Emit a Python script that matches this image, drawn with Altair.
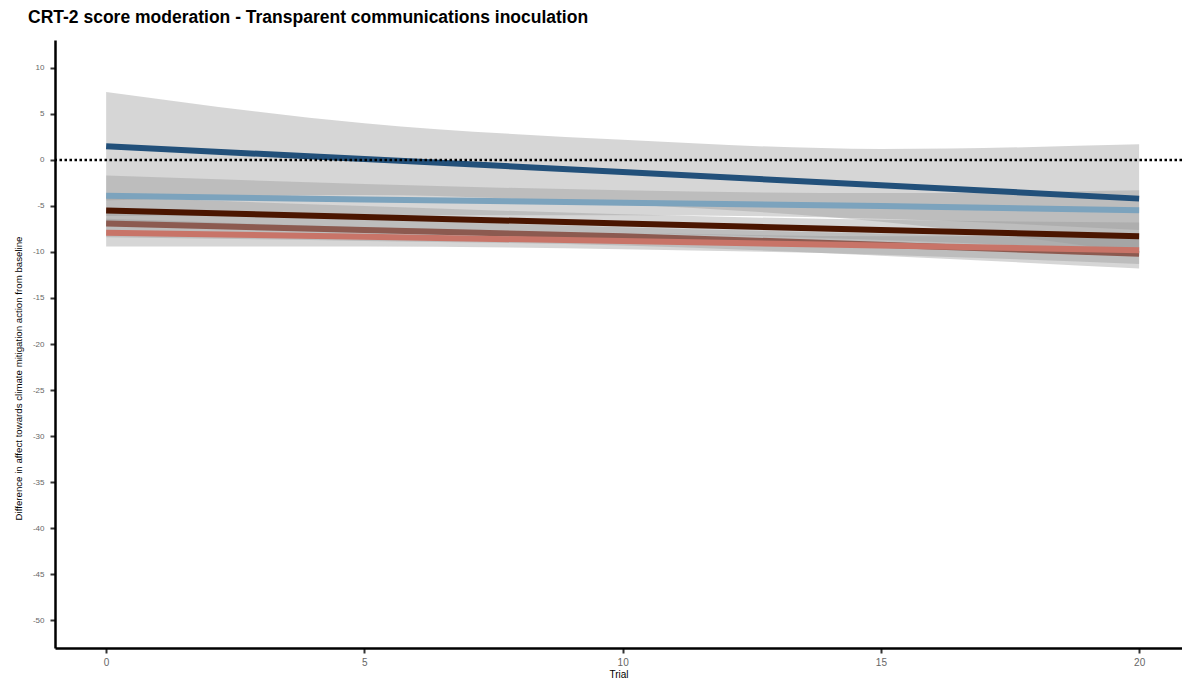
import altair as alt
import pandas as pd

trial = [0, 5, 10, 15, 20]
groups = ["Level 1", "Level 2", "Level 3", "Level 4", "Level 5"]
colors = ["#22507a", "#7ca3bd", "#4a1500", "#8c5a50", "#c87468"]

fit = {
    "Level 1": [1.5, 0.1, -1.3, -2.75, -4.2],
    "Level 2": [-3.9, -4.3, -4.65, -5.0, -5.45],
    "Level 3": [-5.5, -6.2, -6.9, -7.6, -8.3],
    "Level 4": [-6.9, -7.6, -8.3, -9.2, -10.2],
    "Level 5": [-7.9, -8.35, -8.8, -9.3, -9.8],
}
upper = {
    "Level 1": [7.4, 4.0, 2.2, 1.2, 1.7],
    "Level 2": [-1.7, -2.6, -3.3, -3.6, -3.3],
    "Level 3": [-4.0, -5.0, -5.9, -6.5, -6.8],
    "Level 4": [-5.4, -6.4, -7.3, -8.0, -8.6],
    "Level 5": [-6.4, -7.3, -7.9, -8.3, -8.3],
}
lower = {
    "Level 1": [-4.4, -3.8, -4.8, -6.7, -10.1],
    "Level 2": [-6.1, -6.0, -6.0, -6.4, -7.6],
    "Level 3": [-7.0, -7.4, -7.9, -8.7, -9.8],
    "Level 4": [-8.4, -8.8, -9.3, -10.4, -11.8],
    "Level 5": [-9.4, -9.4, -9.7, -10.3, -11.3],
}

y_ticks = list(range(-50, 11, 5))
x_ticks = [0, 5, 10, 15, 20]

rows = []
for g in groups:
    for i, t in enumerate(trial):
        rows.append({"group": g, "trial": t, "fit": fit[g][i],
                     "lo": lower[g][i], "hi": upper[g][i]})
df = pd.DataFrame(rows)

font = "Liberation Sans"

x_enc = alt.X("trial:Q", scale=alt.Scale(domain=[-0.99, 20.83], nice=False, zero=False),
              axis=alt.Axis(title="Trial", values=x_ticks, labelFontSize=10,
                            labelColor="#666666", titleFontSize=10, titleFontWeight="normal",
                            titleColor="#000000", labelPadding=4, titlePadding=2,
                            tickSize=5, domainWidth=2.5, tickWidth=2,
                            domainColor="#000000", tickColor="#333333", grid=False,
                            labelExpr="'' + datum.value",
                            labelFont=font, titleFont=font))
y_scale = alt.Scale(domain=[-53.04, 13.04], nice=False, zero=False)
y_axis = alt.Axis(title="Difference in affect towards climate mitigation action from baseline",
                  values=y_ticks, labelFontSize=8, labelColor="#666666",
                  titleFontSize=9.7, titleFontWeight="normal", titleColor="#000000",
                  labelPadding=6, tickSize=5, domainWidth=2.5, tickWidth=2,
                  domainColor="#000000", tickColor="#333333", grid=False,
                  titleX=-37, titleY=338, titleAngle=-90, titleBaseline="middle",
                  titleAlign="center", labelExpr="'' + datum.value",
                  labelFont=font, titleFont=font)

base = alt.Chart(df)

bands = base.mark_area(color="#999999", opacity=0.4, interpolate="monotone").encode(
    x=x_enc,
    y=alt.Y("lo:Q", scale=y_scale, axis=y_axis, stack=None),
    y2="hi:Q",
    detail="group:N",
)

lines = base.mark_line(strokeWidth=6).encode(
    x="trial:Q",
    y="fit:Q",
    color=alt.Color("group:N", scale=alt.Scale(domain=groups, range=colors), legend=None),
)

zero = alt.Chart(pd.DataFrame({"y": [0]})).mark_rule(
    color="#000000", strokeWidth=2.5, strokeDash=[2.5, 2.5]
).encode(y="y:Q")

chart = alt.layer(bands, lines, zero).properties(
    width=1127,
    height=608,
    autosize=alt.AutoSizeParams(type="none"),
    padding={"left": 47, "top": 32, "right": 0, "bottom": 33},
    title=alt.TitleParams(
        "CRT-2 score moderation - Transparent communications inoculation",
        anchor="start", frame="group", dx=-27, offset=14, fontSize=17.5,
        fontWeight="bold", font=font, color="#000000",
    ),
).configure_view(stroke=None)

chart.save("out.html", embed_options={"renderer": "svg", "actions": False})
